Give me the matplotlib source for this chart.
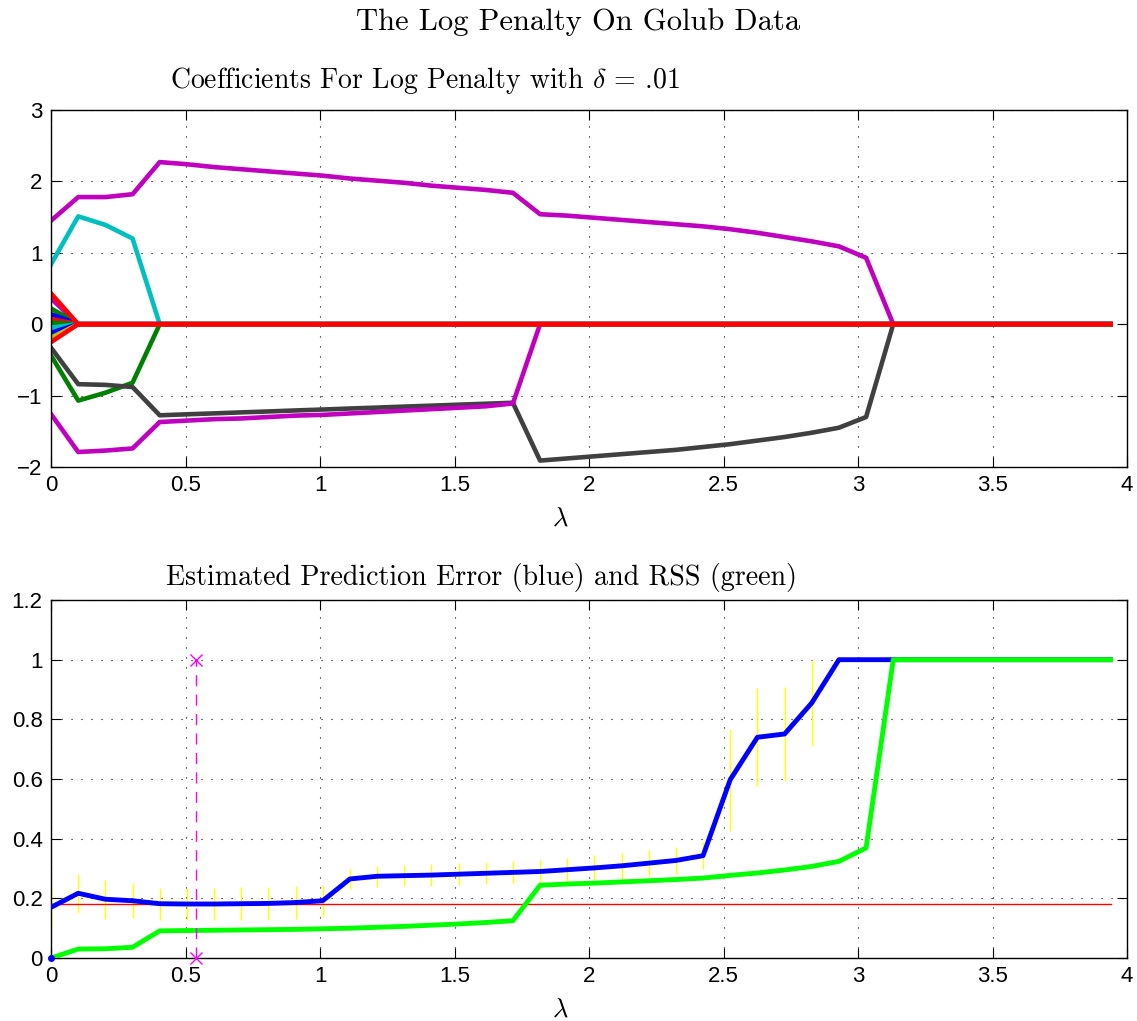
import matplotlib

matplotlib.use("Agg")
import matplotlib.pyplot as plt
import numpy as np

plt.rcParams["font.family"] = ["Liberation Sans", "DejaVu Sans"]
plt.rcParams["mathtext.fontset"] = "cm"

# MATLAB's old default colour order
BLUE = (0, 0, 1)
GREEN = (0, 0.5, 0)
RED = (1, 0, 0)
CYAN = (0, 0.75, 0.75)
MAGENTA = (0.75, 0, 0.75)
YELLOW = (0.75, 0.75, 0)
GRAY = (0.25, 0.25, 0.25)

lam = [0.0, 0.101, 0.202, 0.303, 0.404, 0.505, 0.606, 0.707, 0.808, 0.909,
       1.010, 1.111, 1.212, 1.313, 1.414, 1.515, 1.616, 1.717, 1.818, 1.919,
       2.020, 2.121, 2.222, 2.323, 2.424, 2.525, 2.626, 2.727, 2.828, 2.929,
       3.030, 3.131, 3.232, 3.333, 3.434, 3.535, 3.636, 3.737, 3.838, 3.939]
N = len(lam)


def pad(vals):
    return list(vals) + [0.0] * (N - len(vals))


# coefficient paths (top panel)
coef_mag_up = pad([1.45, 1.78, 1.78, 1.82, 2.27, 2.24, 2.20, 2.17, 2.14, 2.11,
                   2.08, 2.04, 2.01, 1.98, 1.94, 1.91, 1.88, 1.84, 1.54, 1.52,
                   1.49, 1.46, 1.43, 1.40, 1.37, 1.33, 1.28, 1.22, 1.16, 1.09,
                   0.93])
coef_gray = pad([-0.33, -0.84, -0.85, -0.88, -1.276, -1.262, -1.249, -1.235,
                 -1.222, -1.208, -1.195, -1.181, -1.168, -1.154, -1.141, -1.127,
                 -1.114, -1.10, -1.91, -1.88, -1.85, -1.82, -1.79, -1.76, -1.72,
                 -1.68, -1.63, -1.58, -1.52, -1.45, -1.30])
coef_mag_low = pad([-1.26, -1.79, -1.77, -1.74, -1.37, -1.35, -1.33, -1.32,
                    -1.30, -1.28, -1.27, -1.25, -1.23, -1.21, -1.19, -1.17,
                    -1.15, -1.11])
coef_cyan = pad([0.84, 1.51, 1.39, 1.20])
coef_green = pad([-0.44, -1.07, -0.96, -0.82])

# small coefficients that are zero from the second lambda onward
small_start = [0.36, 0.22, 0.14, 0.07, 0.02, -0.05, -0.12, -0.19, -0.25, 0.43]
small_colors = [MAGENTA, GREEN, BLUE, RED, GREEN, CYAN, BLUE, YELLOW, RED, RED]

# prediction error (bottom panel)
pred_err = [0.170, 0.217, 0.197, 0.192, 0.182, 0.181, 0.181, 0.182, 0.183, 0.186,
            0.192, 0.265, 0.274, 0.276, 0.278, 0.281, 0.284, 0.287, 0.290, 0.296,
            0.302, 0.309, 0.318, 0.327, 0.343, 0.598, 0.740, 0.751, 0.855, 1.0,
            1.0, 1.0, 1.0, 1.0, 1.0, 1.0, 1.0, 1.0, 1.0, 1.0]
pred_sd = [0.069, 0.066, 0.066, 0.058, 0.054, 0.055, 0.055, 0.055, 0.055, 0.055,
           0.053, 0.034, 0.035, 0.036, 0.036, 0.036, 0.037, 0.037, 0.038, 0.040,
           0.042, 0.043, 0.044, 0.045, 0.046, 0.171, 0.164, 0.158, 0.144, 0.0,
           0.0, 0.0, 0.0, 0.0, 0.0, 0.0, 0.0, 0.0, 0.0, 0.0]
rss = [0.0, 0.030, 0.031, 0.036, 0.091, 0.092, 0.093, 0.094, 0.095, 0.096,
       0.098, 0.100, 0.103, 0.106, 0.110, 0.114, 0.119, 0.125, 0.244, 0.248,
       0.251, 0.255, 0.259, 0.263, 0.268, 0.277, 0.285, 0.295, 0.307, 0.324,
       0.369, 1.0, 1.0, 1.0, 1.0, 1.0, 1.0, 1.0, 1.0, 1.0]
min_err = 0.181
best_lam = 0.538

fig = plt.figure(figsize=(11.37, 10.21), dpi=100)
ax1 = fig.add_axes([0.0449, 0.5426, 0.9463, 0.3497])
ax2 = fig.add_axes([0.0449, 0.0617, 0.9463, 0.3506])

lw = 3.3
ax1.plot(lam, coef_mag_up, color=MAGENTA, lw=lw)
ax1.plot(lam, coef_cyan, color=CYAN, lw=lw)
ax1.plot(lam, coef_green, color=GREEN, lw=lw)
ax1.plot(lam, coef_gray, color=GRAY, lw=lw)
ax1.plot(lam, coef_mag_low, color=MAGENTA, lw=lw)
for v, c in zip(small_start, small_colors):
    ax1.plot(lam, pad([v]), color=c, lw=lw)
ax1.set_xlim(0, 4)
ax1.set_ylim(-2, 3)

ax2.errorbar(lam, pred_err, yerr=pred_sd, fmt="none", ecolor="yellow",
             elinewidth=1.0, capsize=0, zorder=2, clip_on=False)
ax2.plot(lam, [min_err] * N, color=RED, lw=1.0, zorder=3)
ax2.plot(lam, pred_err, color=BLUE, lw=3.5, zorder=4)
ax2.plot(lam, rss, color=(0, 1, 0), lw=3.5, zorder=4)
ax2.plot([lam[0]], [0], "o", color=BLUE, ms=4, zorder=5, clip_on=False)
ax2.plot([best_lam, best_lam], [0, 1], color=(1, 0, 1), lw=1.0,
         ls=(0, (8, 6)), marker="x", ms=8, mew=1.0, zorder=5, clip_on=False)
ax2.set_xlim(0, 4)
ax2.set_ylim(0, 1.2)

for ax in (ax1, ax2):
    ax.grid(True, ls=(0, (1, 8)), color="black", lw=0.8)
    ax.tick_params(direction="in", top=True, right=True, length=7,
                   labelsize=16, pad=6)
    ax.set_xticks(np.arange(0, 4.01, 0.5))
    ax.set_xticklabels(["0", "0.5", "1", "1.5", "2", "2.5", "3", "3.5", "4"])
    for s in ax.spines.values():
        s.set_linewidth(1.0)
ax1.set_yticks([-2, -1, 0, 1, 2, 3])
ax1.set_yticklabels(["\u22122", "\u22121", "0", "1", "2", "3"])
ax2.set_yticks([0, 0.2, 0.4, 0.6, 0.8, 1.0, 1.2])
ax2.set_yticklabels(["0", "0.2", "0.4", "0.6", "0.8", "1", "1.2"])

serif = "cmr10"
fig.text(578 / 1137, 1 - 22 / 1021, "The Log Penalty On Golub Data",
         family=serif, fontsize=22, ha="center", va="center")
fig.text(425 / 1137, 1 - 80 / 1021,
         r"Coefficients For Log Penalty with $\delta$ = .01",
         family=serif, fontsize=20, ha="center", va="center")
fig.text(481 / 1137, 1 - 577 / 1021,
         "Estimated Prediction Error (blue) and RSS (green)",
         family=serif, fontsize=20.2, ha="center", va="center")
fig.text(560 / 1137, 1 - 519 / 1021, r"$\lambda$", fontsize=19,
         ha="center", va="center")
fig.text(560 / 1137, 1 - 1010 / 1021, r"$\lambda$", fontsize=19,
         ha="center", va="center")

fig.savefig("out.png", dpi=100)
